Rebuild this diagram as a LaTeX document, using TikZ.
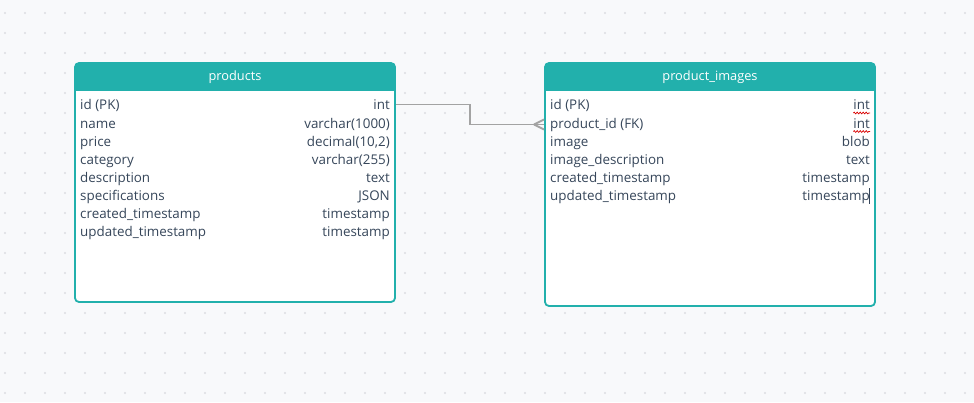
\documentclass[tikz,border=0pt]{standalone}
\usepackage{fontspec}
\setmainfont{Open Sans}
\usetikzlibrary{decorations.pathmorphing,calc}
\definecolor{bgc}{HTML}{F8F9FB}
\definecolor{dotc}{HTML}{DCDDE2}
\definecolor{tealc}{HTML}{22B0AC}
\definecolor{txtc}{HTML}{36465A}
\definecolor{connc}{HTML}{A3A3A3}
\tikzset{
  field/.style={anchor=base west, inner sep=0pt, text=txtc, font=\fontsize{13.4}{16}\selectfont},
  ftype/.style={anchor=base east, inner sep=0pt, text=txtc, font=\fontsize{13.4}{16}\selectfont},
  hdr/.style={inner sep=0pt, text=white, font=\fontsize{12.8}{15}\selectfont},
  tbox/.style={draw=tealc, line width=1.8pt, rounded corners=4pt},
  conn/.style={draw=connc, line width=1.9pt},
  squig/.style={draw=red!85!black, line width=0.7pt, decorate, decoration={snake, amplitude=0.9pt, segment length=3pt}}
}
\begin{document}
\begin{tikzpicture}[x=1pt,y=-1pt]
\fill[bgc] (0,0) rectangle (974,402);
\useasboundingbox (0,0) rectangle (974,402);
% dot grid
\foreach \i in {0,...,48} {
  \foreach \j in {0,...,19} {
    \fill[dotc] (5+20*\i, 13+20*\j) circle (1.1);
  }
}
% ---------- products table ----------
\fill[white, rounded corners=4pt] (75,63) rectangle (395,302);
\begin{scope}
  \clip[rounded corners=4pt] (75,63) rectangle (395,302);
  \fill[tealc] (75,63) rectangle (395,91);
\end{scope}
\node[tbox, minimum width=320pt, minimum height=239pt, inner sep=0pt] (products) at (235,182.5) {};
\node[hdr] (ph) at (235,77.5) {products};
\node[field] (p1n) at (80,109.5) {id (PK)};
\node[ftype] (p1) at (390,109.5) {int};
\node[field] (p2n) at (80,128) {name};
\node[ftype] (p2) at (390,128) {varchar(1000)};
\node[field] (p3n) at (80,146) {price};
\node[ftype] (p3) at (390,146) {decimal(10,2)};
\node[field] (p4n) at (80,164) {category};
\node[ftype] (p4) at (390,164) {varchar(255)};
\node[field] (p5n) at (80,182) {description};
\node[ftype] (p5) at (390,182) {text};
\node[field] (p6n) at (80,200) {specifications};
\node[ftype] (p6) at (390,200) {JSON};
\node[field] (p7n) at (80,218) {created\_timestamp};
\node[ftype] (p7) at (390,218) {timestamp};
\node[field] (p8n) at (80,236) {updated\_timestamp};
\node[ftype] (p8) at (390,236) {timestamp};
% ---------- product_images table ----------
\fill[white, rounded corners=4pt] (545,63) rectangle (875,306);
\begin{scope}
  \clip[rounded corners=4pt] (545,63) rectangle (875,306);
  \fill[tealc] (545,63) rectangle (875,91);
\end{scope}
\node[tbox, minimum width=330pt, minimum height=243pt, inner sep=0pt] (images) at (710,184.5) {};
\node[hdr] (ih) at (710,77.5) {product\_images};
\node[field] (i1n) at (550,109.5) {id (PK)};
\node[ftype] (i1) at (870,109.5) {int};
\node[field] (i2n) at (550,128) {product\_id (FK)};
\node[ftype] (i2) at (870,128) {int};
\node[field] (i3n) at (550,146) {image};
\node[ftype] (i3) at (870,146) {blob};
\node[field] (i4n) at (550,164) {image\_description};
\node[ftype] (i4) at (870,164) {text};
\node[field] (i5n) at (550,182) {created\_timestamp};
\node[ftype] (i5) at (870,182) {timestamp};
\node[field] (i6n) at (550,200) {updated\_timestamp};
\node[ftype] (i6) at (870,200) {timestamp};
% spell-check squiggles and cursor
\draw[squig] (i1.south west |- 0,113) -- (i1.south east |- 0,113);
\draw[squig] (i2.south west |- 0,131.5) -- (i2.south east |- 0,131.5);
\draw[txtc, line width=0.9pt] (869.5,188) -- (869.5,204);
% ---------- connector ----------
\coordinate (mid) at (470,0);
\coordinate (cstart) at (products.east |- 0,104.5);
\coordinate (cend) at (images.west |- 0,124.5);
\draw[conn] (cstart) -- (cstart -| mid) -- (cend -| mid) -- (cend);
\draw[conn] ($(cend)+(-10,0)$) -- ($(cend)+(0,-5)$);
\draw[conn] ($(cend)+(-10,0)$) -- ($(cend)+(0,5)$);
\end{tikzpicture}
\end{document}
